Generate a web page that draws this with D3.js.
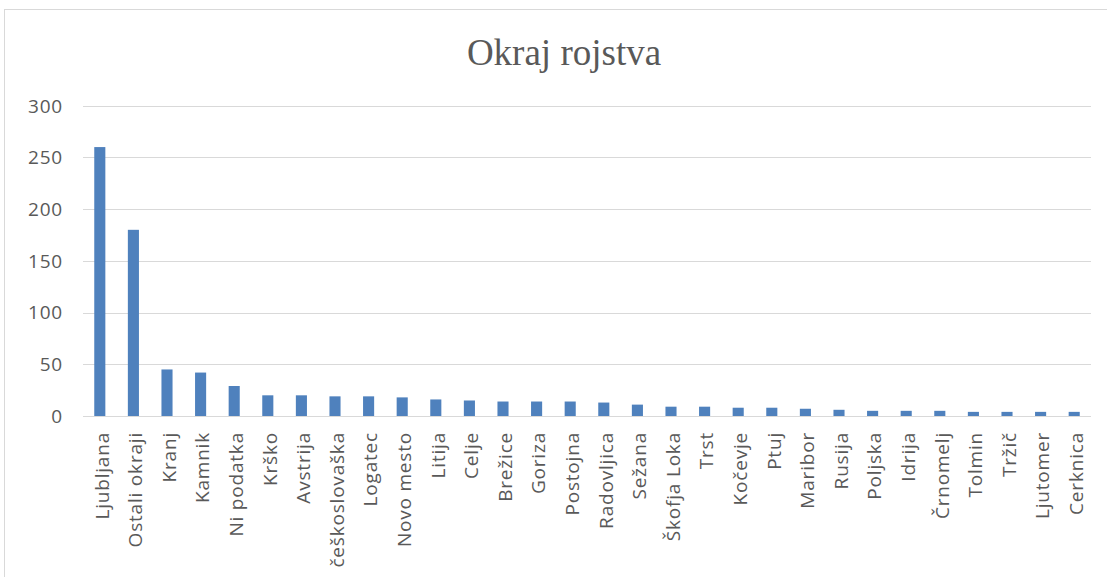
<!DOCTYPE html>
<html lang="sl">
<head>
  <meta charset="UTF-8">
  <title>Okraj rojstva</title>
  <script src="https://d3js.org/d3.v7.min.js"></script>
  <style>
    body { margin: 0; background: #fff; }
    .tick-label { font-family: "Open Sans", sans-serif; font-size: 19px; fill: #595959; letter-spacing: 0.8px; }
    .title { font-family: "Liberation Serif", "Times New Roman", serif; font-size: 37px; fill: #595959; }
  </style>
</head>
<body>
  <svg id="chart" width="1107" height="577"></svg>
  <script>
    // data
    const categories = ["Ljubljana", "Ostali okraji", "Kranj", "Kamnik", "Ni podatka", "Krško", "Avstrija",
      "češkoslovaška", "Logatec", "Novo mesto", "Litija", "Celje", "Brežice", "Goriza", "Postojna",
      "Radovljica", "Sežana", "Škofja Loka", "Trst", "Kočevje", "Ptuj", "Maribor", "Rusija", "Poljska",
      "Idrija", "Črnomelj", "Tolmin", "Tržič", "Ljutomer", "Cerknica"];
    const counts = [260, 180, 45, 42, 29, 20, 20, 19, 19, 18, 16, 15, 14, 14, 14,
      13, 11, 9, 9, 8, 8, 7, 6, 5, 5, 5, 4, 4, 4, 4];
    const yTicks = [0, 50, 100, 150, 200, 250, 300];
    const title = "Okraj rojstva";

    const svg = d3.select("#chart");

    // chart frame
    svg.append("rect")
      .attr("x", 4.5).attr("y", 9.5)
      .attr("width", 1120).attr("height", 600)
      .attr("fill", "#fff")
      .attr("stroke", "#d9d9d9");

    const plotLeft = 83, plotRight = 1091, plotTop = 105.7, plotBottom = 416;

    const x = d3.scaleBand()
      .domain(categories)
      .range([plotLeft, plotRight])
      .paddingInner(0.67)
      .paddingOuter(0.335);

    const y = d3.scaleLinear()
      .domain([0, 300])
      .range([plotBottom, plotTop]);

    // gridlines
    svg.append("g")
      .selectAll("line")
      .data(yTicks)
      .join("line")
      .attr("x1", plotLeft).attr("x2", plotRight)
      .attr("y1", d => Math.round(y(d)) + 0.5)
      .attr("y2", d => Math.round(y(d)) + 0.5)
      .attr("stroke", "#d9d9d9")
      .attr("stroke-width", 1);

    // y tick labels
    svg.append("g")
      .selectAll("text")
      .data(yTicks)
      .join("text")
      .attr("class", "tick-label")
      .attr("x", 63)
      .attr("y", d => y(d))
      .attr("dy", "0.36em")
      .attr("text-anchor", "end")
      .text(d => d);

    // bars
    svg.append("g")
      .selectAll("rect")
      .data(categories)
      .join("rect")
      .attr("x", d => x(d))
      .attr("width", x.bandwidth())
      .attr("y", (d, i) => y(counts[i]))
      .attr("height", (d, i) => y(0) - y(counts[i]))
      .attr("fill", "#4f81bd");

    // x labels, rotated
    svg.append("g")
      .selectAll("text")
      .data(categories)
      .join("text")
      .attr("class", "tick-label")
      .attr("text-anchor", "end")
      .attr("dy", "0.36em")
      .attr("transform", d => `translate(${x(d) + x.bandwidth() / 2 + 2},432) rotate(-90)`)
      .text(d => d);

    // title
    svg.append("text")
      .attr("class", "title")
      .attr("x", 564)
      .attr("y", 65)
      .attr("text-anchor", "middle")
      .text(title);
  </script>
</body>
</html>
